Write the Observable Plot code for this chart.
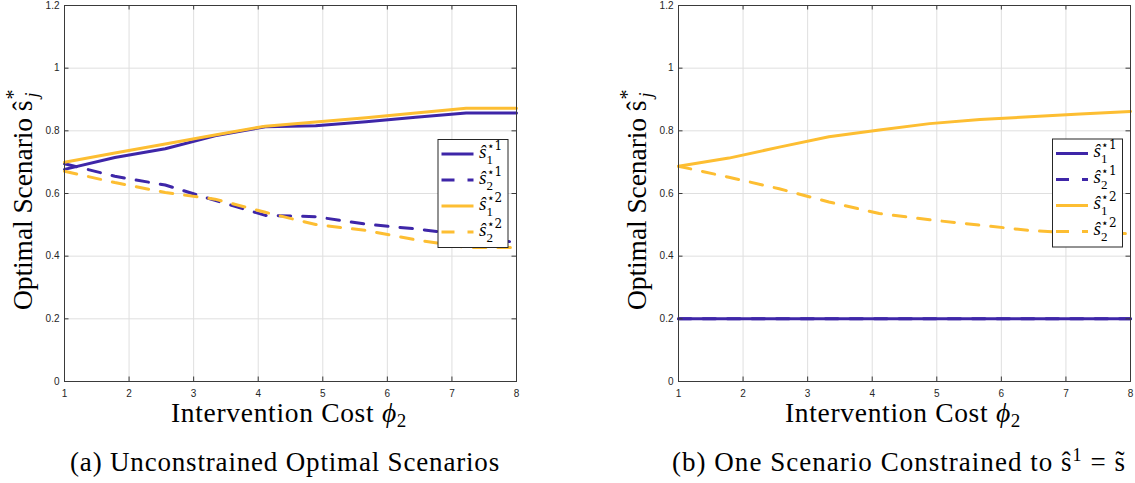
<!DOCTYPE html>
<html><head><meta charset="utf-8">
<script src="https://cdn.jsdelivr.net/npm/d3@7"></script>
<script src="https://cdn.jsdelivr.net/npm/@observablehq/plot@0.6"></script>
<style>
body{margin:0;background:#fff;}
#wrap{position:relative;width:1135px;height:483px;overflow:hidden;background:#fff;}
#wrap > svg{position:absolute;top:0;}
</style></head><body><div id="wrap"></div>
<script>
// ---- data ----
const xCost = [1, 1.78, 2.56, 3.33, 4.11, 4.89, 5.67, 6.44, 7.22, 8];
// panel (a): unconstrained
const a_s1_1 = [0.677, 0.715, 0.743, 0.784, 0.813, 0.816, 0.829, 0.843, 0.857, 0.857];
const a_s2_1 = [0.695, 0.655, 0.627, 0.578, 0.530, 0.526, 0.502, 0.487, 0.468, 0.443];
const a_s1_2 = [0.700, 0.729, 0.758, 0.787, 0.815, 0.828, 0.842, 0.857, 0.872, 0.872];
const a_s2_2 = [0.671, 0.635, 0.603, 0.582, 0.540, 0.501, 0.482, 0.452, 0.428, 0.428];
// panel (b): one scenario constrained
const b_s1_1 = [0.2, 0.2, 0.2, 0.2, 0.2, 0.2, 0.2, 0.2, 0.2, 0.2];
const b_s2_1 = [0.2, 0.2, 0.2, 0.2, 0.2, 0.2, 0.2, 0.2, 0.2, 0.2];
const b_s1_2 = [0.687, 0.713, 0.748, 0.781, 0.803, 0.823, 0.836, 0.845, 0.854, 0.862];
const b_s2_2 = [0.687, 0.652, 0.615, 0.573, 0.536, 0.516, 0.499, 0.482, 0.472, 0.472];

const xTicks = [1, 2, 3, 4, 5, 6, 7, 8];
const yTicks = [0, 0.2, 0.4, 0.6, 0.8, 1, 1.2];

const legendMain = ["ŝ", "ŝ", "ŝ", "ŝ"];
const legendSup = ["⋆1", "⋆1", "⋆2", "⋆2"];
const legendSub = ["1", "2", "1", "2"];

const xLabelMain = "Intervention Cost ";
const xLabelVar = "ϕ";
const xLabelSub = "2";
const yLabelMain = "Optimal Scenario ŝ";
const yLabelSup = "*";
const yLabelSub = "j";
const captionA = "(a) Unconstrained Optimal Scenarios";
const captionB = ["(b) One Scenario Constrained to ŝ", "1", " = s̃"];

const BLUE = "#3e26a8", ORANGE = "#fdbe32";
const seriesStyle = [
  {color: BLUE, dashed: false},
  {color: BLUE, dashed: true},
  {color: ORANGE, dashed: false},
  {color: ORANGE, dashed: true}
];

// ---- layout ----
const H = 400, MT = 5, MB = 19, ML = 64;
const plotH = H - MT - MB;
const TL = 4.5;
const DASH = "12.5,12";

function panel(seriesValues, width, marginRight, left) {
  const plotW = width - ML - marginRight;
  const lineMarks = seriesValues.map((vals, i) => {
    const st = seriesStyle[i];
    const opts = {x: (d, j) => xCost[j], y: d => d, stroke: st.color, strokeWidth: 3};
    if (st.dashed) opts.strokeDasharray = DASH;
    return Plot.lineY(vals, opts);
  });
  const chart = Plot.plot({
    width, height: H, marginLeft: ML, marginRight, marginTop: MT, marginBottom: MB,
    style: {fontFamily: "'Liberation Sans', Arial, sans-serif", fontSize: "10px", color: "#262626", background: "transparent"},
    x: {domain: [1, 8], label: null},
    y: {domain: [0, 1.2], label: null},
    marks: [
      Plot.gridX(xTicks, {stroke: "#dfdfdf", strokeOpacity: 1}),
      Plot.gridY(yTicks, {stroke: "#dfdfdf", strokeOpacity: 1}),
      ...lineMarks,
      Plot.frame({stroke: "#3a3a3a"}),
      Plot.tickX(xTicks, {x: d => d, insetTop: plotH - TL, stroke: "#3a3a3a"}),
      Plot.tickX(xTicks, {x: d => d, insetBottom: plotH - TL, stroke: "#3a3a3a"}),
      Plot.tickY(yTicks, {y: d => d, insetRight: plotW - TL, stroke: "#3a3a3a"}),
      Plot.tickY(yTicks, {y: d => d, insetLeft: plotW - TL, stroke: "#3a3a3a"}),
      Plot.axisX(xTicks, {tickSize: 0, tickPadding: 8, label: null, tickFormat: d => String(d)}),
      Plot.axisY(yTicks, {tickSize: 0, tickPadding: 5, label: null, tickFormat: d => String(d)})
    ]
  });
  chart.style.left = left + "px";
  document.getElementById("wrap").appendChild(chart);
}

panel([a_s1_1, a_s2_1, a_s1_2, a_s2_2], 540, 24, 0);
panel([b_s1_1, b_s2_1, b_s1_2, b_s2_2], 521, 5, 614);

// ---- overlay: axis titles, captions, legends ----
const NS = "http://www.w3.org/2000/svg";
const ov = document.createElementNS(NS, "svg");
ov.setAttribute("width", 1135); ov.setAttribute("height", 483);
ov.style.left = "0px"; ov.style.pointerEvents = "none";
document.getElementById("wrap").appendChild(ov);
const SERIF = "'Liberation Serif', 'DejaVu Serif', serif";
const INK = "#000";

function el(tag, attrs, parent, text) {
  const e = document.createElementNS(NS, tag);
  for (const k in attrs) e.setAttribute(k, attrs[k]);
  if (text != null) e.textContent = text;
  (parent || ov).appendChild(e);
  return e;
}
function fit(t, target) {
  const len = t.getComputedTextLength();
  const n = t.textContent.length;
  t.setAttribute("letter-spacing", ((target - len) / n).toFixed(3));
}

function xLabel(cx) {
  const t = el("text", {x: cx, y: 421.5, "text-anchor": "middle", "font-family": SERIF, "font-size": 27.5, fill: INK});
  el("tspan", {}, t, xLabelMain);
  el("tspan", {"font-style": "italic"}, t, xLabelVar);
  el("tspan", {"font-size": 19, dy: 5}, t, xLabelSub);
  fit(t, 236);
}
function yLabel(bx) {
  const g = el("g", {transform: `translate(${bx},310) rotate(-90)`});
  const t = el("text", {x: 0, y: 0, "font-family": SERIF, "font-size": 27.5, fill: INK}, g, yLabelMain);
  const main = "Optimal Scenario";
  const probe = el("text", {"font-family": SERIF, "font-size": 27.5}, g, main);
  const ls = (192 - probe.getComputedTextLength()) / main.length;
  probe.remove();
  t.setAttribute("letter-spacing", ls.toFixed(3));
  const L = t.getComputedTextLength();
  el("text", {x: L + 1, y: -12, "font-family": SERIF, "font-size": 20, fill: INK}, g, yLabelSup);
  el("text", {x: L + 3, y: 6, "font-family": SERIF, "font-size": 18, "font-style": "italic", fill: INK}, g, yLabelSub);
}
function caption(cx, parts, target) {
  const t = el("text", {x: cx, y: 470.5, "text-anchor": "middle", "font-family": SERIF, "font-size": 27, fill: INK});
  if (typeof parts === "string") { t.textContent = parts; }
  else {
    el("tspan", {}, t, parts[0]);
    el("tspan", {"font-size": 18, dy: -10}, t, parts[1]);
    el("tspan", {dy: 10}, t, parts[2]);
  }
  fit(t, target);
}
function legend(x0, y0) {
  el("rect", {x: x0 + 0.5, y: y0 + 0.5, width: 70, height: 108, fill: "#fff", stroke: "#262626", "stroke-width": 1});
  for (let i = 0; i < 4; i++) {
    const y = y0 + 15 + i * 26;
    const st = seriesStyle[i];
    const ln = el("line", {x1: x0 + 4, x2: x0 + 36, y1: y, y2: y, stroke: st.color, "stroke-width": 3});
    if (st.dashed) ln.setAttribute("stroke-dasharray", "13,13");
    el("text", {x: x0 + 41.5, y: y + 3.5, "font-family": SERIF, "font-size": 19, "font-style": "italic", fill: INK}, null, legendMain[i]);
    el("text", {x: x0 + 49, y: y - 4.5, "font-family": "'DejaVu Serif', serif", "font-size": 12, fill: INK}, null, legendSup[i]);
    el("text", {x: x0 + 49, y: y + 9.5, "font-family": SERIF, "font-size": 13, fill: INK}, null, legendSub[i]);
  }
}

yLabel(32);
yLabel(646);
xLabel(289);
xLabel(903);
caption(285, captionA, 430);
caption(899, captionB, 455);
legend(437.5, 139);
legend(1052, 138.5);
</script>
</body></html>
